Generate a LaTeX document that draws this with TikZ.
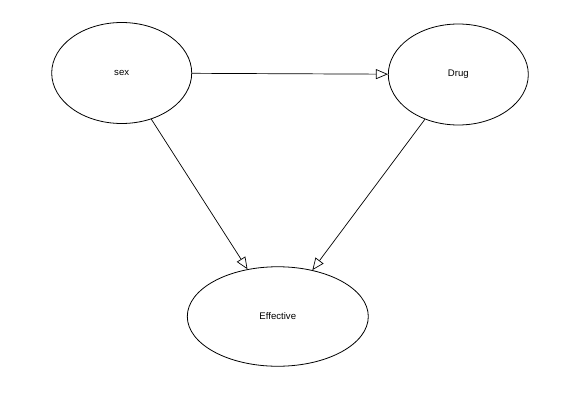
\documentclass[tikz,border=0pt]{standalone}
\usepackage{fontspec}
\setmainfont{Liberation Sans}
\usetikzlibrary{positioning,arrows.meta,shapes.geometric}

\begin{document}
\begin{tikzpicture}[
  x=1pt, y=-1pt,
  font=\fontsize{9.6}{11}\selectfont,
  var/.style={draw, ellipse, line width=0.8pt, inner sep=0pt, minimum width=140pt, minimum height=101pt},
  arr/.style={-{Triangle[open, length=12pt, width=10pt, fill=white]}, line width=0.7pt}
]
\useasboundingbox[fill=white] (0,0) rectangle (561,409);
\node[var] (sex) at (121.7,73) {sex};
\node[var] (drug) at (458.3,74.5) {Drug};
\node[var, minimum width=181pt, minimum height=99.5pt] (eff) at (277.8,316.5) {Effective};
\draw[arr] (sex) -- (drug);
\draw[arr] (sex) -- (eff);
\draw[arr] (drug) -- (eff);
\end{tikzpicture}
\end{document}
